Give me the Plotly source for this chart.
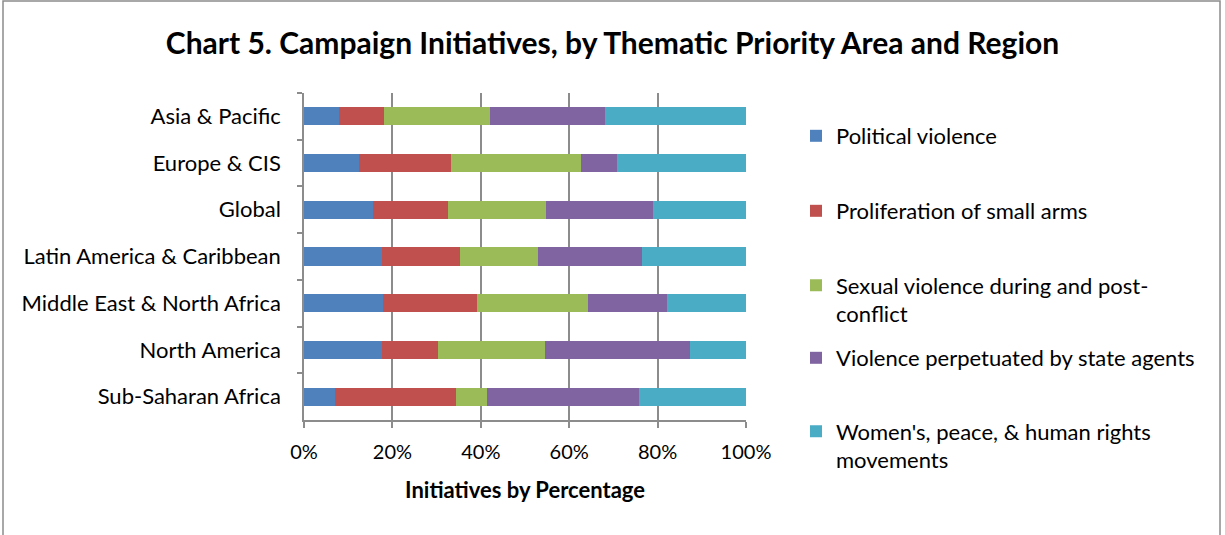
import plotly.graph_objects as go

# Regions (top to bottom) and the share of campaign initiatives (%) per thematic area
regions = [
    "Asia & Pacific",
    "Europe & CIS",
    "Global",
    "Latin America & Caribbean",
    "Middle East & North Africa",
    "North America",
    "Sub-Saharan Africa",
]
political_violence = [7.9, 12.5, 15.7, 17.7, 17.9, 17.7, 6.9]
small_arms = [10.2, 20.8, 16.8, 17.6, 21.3, 12.6, 27.5]
sexual_violence = [23.9, 29.3, 22.2, 17.7, 25.0, 24.2, 7.0]
state_agents = [26.1, 8.2, 24.2, 23.4, 18.0, 32.8, 34.5]
womens_movements = [31.9, 29.2, 21.1, 23.6, 17.8, 12.7, 24.1]

series_names = [
    "Political violence",
    "Proliferation of small arms",
    "Sexual violence during and post-<br>conflict",
    "Violence perpetuated by state agents",
    "Women's, peace, & human rights<br>movements",
]
series_values = [political_violence, small_arms, sexual_violence, state_agents, womens_movements]
colors = ["#4F81BD", "#C0504D", "#9BBB59", "#8064A2", "#4BACC6"]

x_ticks = [0, 20, 40, 60, 80, 100]
x_tick_labels = ["0%", "20%", "40%", "60%", "80%", "100%"]

W, H = 1225, 535
FONT = "Lato, 'Open Sans', sans-serif"
GRID = "#8c8c8c"
TXT = 22

fig = go.Figure()
legend_ids = ["legend", "legend2", "legend3", "legend4", "legend5"]
for name, vals, col, lg in zip(series_names, series_values, colors, legend_ids):
    fig.add_trace(go.Bar(
        y=regions, x=vals, name=name, orientation="h",
        marker=dict(color=col, line=dict(width=0)),
        legend=lg,
    ))

# one legend box per entry so each row sits at its own height
legend_rows = [136, 211, 300, 358, 446]
legend_cfg = {}
for lg, py in zip(legend_ids, legend_rows):
    legend_cfg[lg] = dict(
        x=796 / W, y=1 - py / H, xref="container", yref="container",
        xanchor="left", yanchor="middle", valign="top",
        font=dict(family=FONT, size=TXT, color="#000000"),
        bgcolor="rgba(0,0,0,0)", borderwidth=0,
    )

fig.update_layout(
    width=W, height=H,
    margin=dict(l=304, r=W - 746, t=93, b=H - 420),
    paper_bgcolor="white", plot_bgcolor="white",
    barmode="stack", bargap=0.61,
    font=dict(family=FONT, size=TXT, color="#000000"),
    title=dict(
        text="<b>Chart 5. Campaign Initiatives, by Thematic Priority Area and Region</b>",
        x=0.5, xref="container", xanchor="center",
        y=1 - 43 / H, yref="container", yanchor="middle",
        font=dict(family=FONT, size=30, color="#000000"),
    ),
    showlegend=True,
    **legend_cfg,
)

fig.update_xaxes(
    range=[0, 100], tickvals=x_ticks, ticktext=x_tick_labels,
    showgrid=True, gridcolor=GRID, gridwidth=1.5,
    showline=True, linecolor=GRID, linewidth=1.5,
    ticks="outside", ticklen=6, tickcolor=GRID, tickwidth=1.5,
    ticklabelstandoff=7, zeroline=False,
    title=dict(text="<b>Initiatives by Percentage</b>", standoff=21,
               font=dict(family=FONT, size=TXT)),
    tickfont=dict(family=FONT, size=20),
    fixedrange=True,
)
fig.update_yaxes(
    autorange="reversed", type="category",
    showline=True, linecolor=GRID, linewidth=1.5,
    ticks="outside", ticklen=5, tickcolor=GRID, tickwidth=1.5,
    tickson="boundaries", ticklabelstandoff=17,
    showgrid=False, tickfont=dict(family=FONT, size=TXT),
    fixedrange=True,
)

# outer chart frame
fig.add_shape(
    type="rect", xref="paper", yref="paper",
    x0=(3 - 304) / 442, x1=(1220 - 304) / 442,
    y0=(420 - 545) / 327, y1=(420 - 1) / 327,
    line=dict(color="#8c8c8c", width=1.5), fillcolor="rgba(0,0,0,0)",
    layer="below",
)

fig.write_html("out.html", config={"displayModeBar": False})
